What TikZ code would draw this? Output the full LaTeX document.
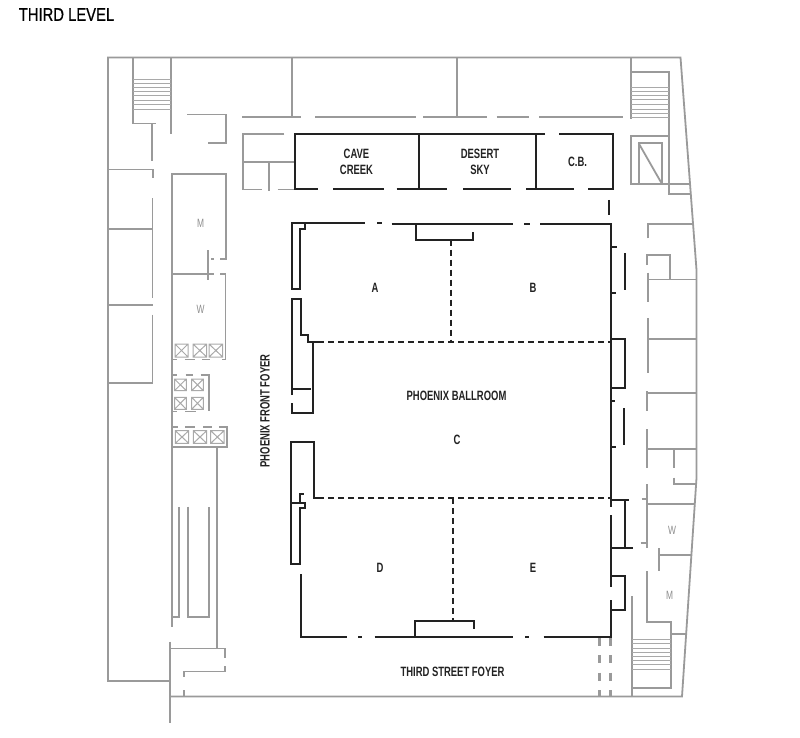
\documentclass[tikz,border=0pt]{standalone}
\usepackage{fontspec}
\setmainfont{Liberation Sans}
\newfontfamily\lblfont[FakeStretch=0.70]{Liberation Sans}
\newfontfamily\ttlfont[FakeStretch=0.80,FakeBold=0.6]{Liberation Sans}
\definecolor{wallgrey}{HTML}{9A9A9A}
\definecolor{inkdark}{HTML}{222222}
\definecolor{letgrey}{HTML}{8C8C8C}
\tikzset{
  greywall/.style={draw=wallgrey,line width=1.8pt,line join=miter},
  greythin/.style={draw=wallgrey!85,line width=1pt},
  darkwall/.style={draw=inkdark,line width=2pt,line join=miter},
  partition/.style={draw=inkdark,line width=2.1pt,dash pattern=on 6pt off 4pt},
  feeddash/.style={draw=wallgrey,line width=2.6pt},
  roomlabel/.style={inner sep=0pt,align=center,text=inkdark,font=\lblfont\bfseries\fontsize{13.5}{16}\selectfont},
  toilet/.style={inner sep=0pt,text=letgrey,font=\lblfont\fontsize{12}{14}\selectfont},
  title/.style={inner sep=0pt,text=black,font=\ttlfont\fontsize{18.5}{20}\selectfont}
}
\newcommand{\liftbox}[4]{\draw[greythin] (#1,#2) rectangle (#3,#4) (#1,#2) -- (#3,#4) (#1,#4) -- (#3,#2);}
\begin{document}
\begin{tikzpicture}[x=1pt,y=-1pt]
\useasboundingbox (0,0) rectangle (800,738);
% ---- outer shell
\draw[greywall] (170,681) -- (108,681) -- (108,57.5) -- (680.5,57.5) -- (695,250) -- (696.5,270) -- (696.5,478) -- (682,696.5) -- (170,696.5);
\draw[greywall] (170,641.5) -- (170,723);
% ---- NW corner, stairs and west rooms
\draw[greywall] (133,57.5) -- (133,123.5) -- (156,123.5);
\draw[greywall] (171,57.5) -- (171,134);
\draw[greywall] (152.3,123.5) -- (152.3,161.5);
\foreach \yy in {79.5,83.5,87.5,91.7,96,100.3,105,109.7} \draw[greythin] (133,\yy) -- (171,\yy);
\draw[greywall] (187,114.5) -- (226,114.5) -- (226,143) -- (208,143);
\draw[greywall] (108,169.5) -- (152.7,169.5) -- (152.7,178.5);
\draw[greywall] (152.5,198.5) -- (152.5,298);
\draw[greywall] (152.5,314.5) -- (152.5,382.7) -- (108,382.7);
\draw[greywall] (108,229) -- (152.5,229);
\draw[greywall] (108,305) -- (152.5,305);
% ---- core
\draw[greywall] (172,626.5) -- (172,174.3) -- (225.7,174.3) -- (225.7,259) -- (220,259);
\draw[greywall] (211,259) -- (213.5,259);
\draw[greywall] (208,250) -- (208,280);
\draw[greywall] (172,274.3) -- (213.5,274.3);
\draw[greywall] (220,274.3) -- (225.5,274.3) -- (225.5,359.5) -- (221.5,359.5);
\draw[greywall] (172.5,359.5) -- (176.7,359.5) (184.7,359.5) -- (195,359.5) (202,359.5) -- (210,359.5);
\draw[greywall] (172.5,374.7) -- (177,374.7) (185.7,374.7) -- (193,374.7) (200.7,374.7) -- (209,374.7) -- (209,411);
\draw[greywall] (172.5,411.5) -- (177,411.5) (185,411.5) -- (195.7,411.5);
\draw[greywall] (172.5,426.7) -- (178,426.7) (185,426.7) -- (195,426.7) (203.3,426.7) -- (211.7,426.7) (219.3,426.7) -- (226.7,426.7) -- (226.7,447.3) -- (172,447.3);
\liftbox{175}{344}{188}{357}
\liftbox{193}{344}{206.7}{357}
\liftbox{209}{344}{222.7}{357}
\liftbox{174.5}{379}{186.3}{390.7}
\liftbox{191.7}{379}{203.3}{390.7}
\liftbox{174.5}{397.3}{186.3}{409.3}
\liftbox{191.7}{397.3}{203.3}{409.3}
\liftbox{175.3}{430.7}{188.7}{443.3}
\liftbox{193.3}{430.7}{206.7}{443.3}
\liftbox{210.7}{430.7}{224}{443.3}
\draw[greywall] (217.3,447.3) -- (217.3,648.5);
\draw[greywall] (172,617.3) -- (179,617.3) -- (179,506.7);
\draw[greywall] (188,506.7) -- (188,617.3) -- (208.7,617.3) -- (208.7,506.7);
\draw[greywall] (170,648.5) -- (225,648.5) -- (225,658);
\draw[greywall] (225,666) -- (225,671.5) -- (184,671.5) -- (184,677);
\draw[greywall] (184,690) -- (184,696.5);
% ---- north rooms
\draw[greywall] (292.3,57.5) -- (292.3,117.3);
\draw[greywall] (456.7,57.5) -- (456.7,117.3);
\draw[greywall] (242,117.3) -- (300.7,117.3) (315,117.3) -- (415.7,117.3) (423.3,117.3) -- (487.3,117.3) (496.7,117.3) -- (529.3,117.3) (539.3,117.3) -- (622.7,117.3);
\draw[greywall] (284.3,134.3) -- (243.3,134.3) -- (243.3,189.5) -- (261.7,189.5);
\draw[greywall] (243.3,162) -- (295.3,162);
\draw[greywall] (269,162) -- (269,191.5);
\draw[greywall] (277.7,189.5) -- (295.3,189.5);
% ---- NE stairs and shaft
\draw[greywall] (630.7,57.5) -- (630.7,119.5);
\draw[greywall] (630.7,71.7) -- (668.7,71.7) -- (668.7,194) -- (690,194);
\foreach \yy in {87.3,91.7,95.7,100,104.3,109.3,113.3,118} \draw[greythin] (630.7,\yy) -- (668.7,\yy);
\draw[greywall] (668.7,136) -- (630.7,136) -- (630.7,184) -- (689.5,184);
\draw[greywall] (638.7,184) -- (638.7,143.3) -- (662,143.3) -- (662,184);
\draw[greywall] (638.7,143.3) -- (662,184);
% ---- east rooms
\draw[greywall] (647.7,238.3) -- (647.7,224.3) -- (692.3,224.3);
\draw[greywall] (647.3,265) -- (647.3,254.7) -- (670,254.7) -- (670,279.5);
\draw[greywall] (648,279.5) -- (696.5,279.5);
\draw[greywall] (648,272.7) -- (648,301.7);
\draw[greywall] (648,318.3) -- (648,373.3);
\draw[greywall] (648,338.7) -- (696.5,338.7);
\draw[greywall] (646.7,391) -- (646.7,411);
\draw[greywall] (646.7,393.3) -- (696.5,393.3);
\draw[greywall] (647.3,429) -- (647.3,468.3);
\draw[greywall] (647.3,449.3) -- (696.5,449.3);
\draw[greywall] (674,449.3) -- (674,468);
\draw[greywall] (674,477.5) -- (674,484) -- (695.5,484);
\draw[greywall] (647.3,484) -- (647.3,548.3);
\draw[greywall] (641.7,499.3) -- (647.3,499.3);
\draw[greywall] (640.5,542.7) -- (647.3,542.7);
\draw[greywall] (647.3,504) -- (694.5,504);
\draw[greywall] (659,548.3) -- (659,571);
\draw[greywall] (659,554.7) -- (690.5,554.7);
\draw[greywall] (647.3,571) -- (647.3,622.3) -- (671,622.3) -- (671,687.7) -- (631.7,687.7);
\draw[greywall] (631.7,596) -- (631.7,696.5);
\draw[greywall] (671,634.3) -- (685.7,634.3);
\foreach \yy in {639.3,643.7,648,652.3,656,660,664,669} \draw[greythin] (631.7,\yy) -- (671,\yy);
% ---- double grey dashes
\foreach \xx in {599.7,610.3} {
  \draw[feeddash] (\xx,638) -- (\xx,645.7) (\xx,655) -- (\xx,662.7) (\xx,672.7) -- (\xx,680.7) (\xx,690) -- (\xx,696.5);
}
% ---- Cave Creek, Desert Sky, C.B.
\draw[darkwall] (545,134.3) -- (295.3,134.3) -- (295.3,189.5) -- (318.3,189.5);
\draw[darkwall] (333.3,189.5) -- (384,189.5) (396.7,189.5) -- (447.3,189.5) (463.3,189.5) -- (511,189.5) (526,189.5) -- (574.3,189.5);
\draw[darkwall] (559,134.3) -- (613.3,134.3) -- (613.3,189.5) -- (588.3,189.5);
\draw[darkwall] (419,134.3) -- (419,189.5);
\draw[darkwall] (536.3,134.3) -- (536.3,189.5);
\draw[darkwall] (609,200) -- (609,215);
% ---- ballroom: top and right wall
\draw[darkwall] (364.7,222.7) -- (292,222.7) -- (292,288.7) -- (300.3,288.7) -- (300.3,229) -- (305,229) -- (305,222.7);
\draw[darkwall] (377.3,223.3) -- (382,223.3);
\draw[darkwall] (391.5,223.5) -- (513.3,223.5);
\draw[darkwall] (524.3,223.5) -- (530,223.5);
\draw[darkwall] (540,223.7) -- (610.5,223.7) -- (610.5,506.7);
\draw[darkwall] (415.7,223.5) -- (415.7,239.5) -- (473,239.5) -- (473,231.7);
% ---- ballroom: west side
\draw[darkwall] (292,395) -- (292,299.3) -- (300.7,299.3) -- (300.7,335) -- (308.3,335) -- (308.3,342.3) -- (318,342.3);
\draw[darkwall] (313,342.3) -- (313,413.3) -- (291.7,413.3) -- (291.7,402.7);
\draw[darkwall] (292,389.3) -- (310.7,389.3);
\draw[darkwall] (290.7,502.7) -- (290.7,442) -- (314,442) -- (314,498.3) -- (318,498.3);
\draw[darkwall] (290.7,502.7) -- (290.7,564) -- (300,564) -- (300,508.3) -- (305,508.3) -- (305,502.7) -- (290.7,502.7);
\draw[darkwall] (299.5,502.7) -- (299.5,494) -- (304,494);
% ---- ballroom: south side
\draw[darkwall] (300.7,574) -- (300.7,636.7) -- (347,636.7);
\draw[darkwall] (358.3,636.7) -- (361.7,636.7);
\draw[darkwall] (374.7,637.3) -- (513.3,637.3);
\draw[darkwall] (525,637.3) -- (529,637.3);
\draw[darkwall] (543.7,637.3) -- (610.7,637.3) -- (610.7,600);
\draw[darkwall] (610.7,515) -- (610.7,586.7);
\draw[darkwall] (415,637.3) -- (415,621) -- (474,621) -- (474,629);
% ---- ballroom: east details
\draw[darkwall] (610.5,246.7) -- (617,246.7);
\draw[darkwall] (625,253) -- (625,290);
\draw[darkwall] (610.5,292.7) -- (616.3,292.7);
\draw[darkwall] (610.5,339) -- (625,339) -- (625,388) -- (610.5,388);
\draw[darkwall] (610.5,400.7) -- (615,400.7);
\draw[darkwall] (624.3,408.3) -- (624.3,445);
\draw[darkwall] (610.5,447.3) -- (616,447.3);
\draw[darkwall] (610.7,500) -- (629.3,500);
\draw[darkwall] (625,500) -- (625,548.3);
\draw[darkwall] (610.7,548.3) -- (633.3,548.3);
\draw[darkwall] (610.7,576.3) -- (625,576.3) -- (625,609.7) -- (610.7,609.7);
% ---- movable partitions
\draw[partition] (318,342.3) -- (610.5,342.3);
\draw[partition] (318,498.3) -- (610.5,498.3);
\draw[partition] (451,239.5) -- (451,342.3);
\draw[partition] (453.3,498.3) -- (453.3,621);
% ---- labels
\node[title] (level) at (66.5,14.5) {THIRD LEVEL};
\node[roomlabel] (cave) at (356.5,162) {CAVE\\CREEK};
\node[roomlabel] (desert) at (480,162) {DESERT\\SKY};
\node[roomlabel] (cb) at (577.5,162) {C.B.};
\node[roomlabel] (roomA) at (375,288) {A};
\node[roomlabel] (roomB) at (533,288) {B};
\node[roomlabel] (ballroom) at (456.5,396) {PHOENIX BALLROOM};
\node[roomlabel] (roomC) at (457,440) {C};
\node[roomlabel] (roomD) at (380,568) {D};
\node[roomlabel] (roomE) at (533,568) {E};
\node[roomlabel] (street) at (452.5,672) {THIRD STREET FOYER};
\node[roomlabel,rotate=90] (front) at (265,411) {PHOENIX FRONT FOYER};
\node[toilet] (mWest) at (200.5,223) {M};
\node[toilet] (wWest) at (200.5,309) {W};
\node[toilet] (wEast) at (672,530) {W};
\node[toilet] (mEast) at (669.5,595) {M};
\end{tikzpicture}
\end{document}
